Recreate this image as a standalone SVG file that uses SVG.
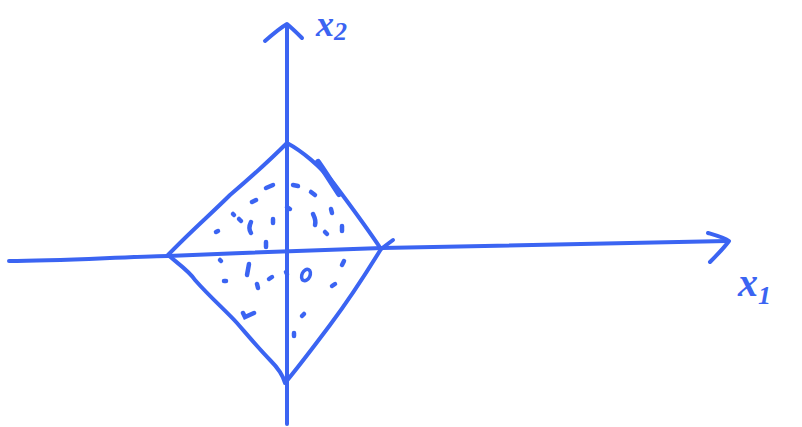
<svg xmlns="http://www.w3.org/2000/svg" width="802" height="427" viewBox="0 0 802 427">
<style>
.s{fill:none;stroke:#3b64f2;stroke-width:4;stroke-linecap:round;stroke-linejoin:round}
.d{fill:none;stroke:#3b64f2;stroke-width:4.5;stroke-linecap:round}
.lbl{font-family:"Liberation Serif",serif;font-style:italic;font-weight:bold;fill:#3b64f2}
</style>
<rect width="802" height="427" fill="#fff"/>
<g id="axes">
<path class="s" d="M9,261 C60,261 120,257 168,256 C240,253 320,250 382,248 C480,246 600,243 727,241"/>
<path class="s" d="M708,233 C718,236 725,238 729,241 C724,248 716,256 710,262"/>
<path class="s" d="M287,424 C287,380 287,300 287,260 C287,180 287,90 287,27"/>
<path class="s" d="M265,41 C273,34 280,28 287,24 C293,29 298,34 302,38"/>
</g>
<g id="diamond">
<path class="s" d="M287,143 C270,160 250,178 230,195 C212,213 190,232 168,255 C180,265 190,272 195,280 C210,297 225,310 237,323 C250,338 260,350 270,360 C278,368 283,375 285,383 C300,365 315,345 330,325 C345,305 365,275 381,249 C365,225 350,205 335,185 C320,165 300,150 287,143 Z"/>
<path class="s" d="M381,249 L393,240"/>
<path class="s" d="M318,162 C325,172 332,183 339,194" style="stroke-width:6"/>
</g>
<g id="dots">
<path class="d" d="M266,188 L273,185"/>
<path class="d" d="M293,185 L298,186"/>
<path class="d" d="M311,192 L315,195"/>
<path class="d" d="M252,202 L256,200"/>
<path class="d" d="M287,207 L290,209"/>
<path class="d" d="M331,209 L332,213"/>
<path class="d" d="M233,214 L234,215"/>
<path class="d" d="M239,219 L241,221"/>
<path class="d" d="M251,222 C249,226 249,230 251,233"/>
<path class="d" d="M273,219 L273,223"/>
<path class="d" d="M313,214 C315,218 316,222 315,225"/>
<path class="d" d="M216,232 L218,231"/>
<path class="d" d="M325,232 L327,234"/>
<path class="d" d="M342,226 L342,231"/>
<path class="d" d="M266,242 L266,247"/>
<path class="d" d="M220,260 L221,261"/>
<path class="d" d="M249,264 L247,275"/>
<path class="d" d="M286,272 L287,274"/>
<ellipse cx="306" cy="275" rx="4" ry="6" transform="rotate(25 306 275)" style="fill:none;stroke:#3b64f2;stroke-width:3.5"/>
<path class="d" d="M269,279 L272,277"/>
<path class="d" d="M224,281 L226,281"/>
<path class="d" d="M257,284 L258,288"/>
<path class="d" d="M344,261 L342,265"/>
<path class="d" d="M332,286 L335,284"/>
<path class="d" d="M243,313 L245,317 L254,313"/>
<path class="d" d="M302,316 L304,314"/>
<path class="d" d="M294,333 L294,336"/>
</g>
<g id="label-x2">
<text class="lbl" x="316" y="36" font-size="36">x<tspan font-size="26" dy="4">2</tspan></text>
</g>
<g id="label-x1">
<text class="lbl" x="738" y="296" font-size="40">x<tspan font-size="26" dy="8">1</tspan></text>
</g>
</svg>
